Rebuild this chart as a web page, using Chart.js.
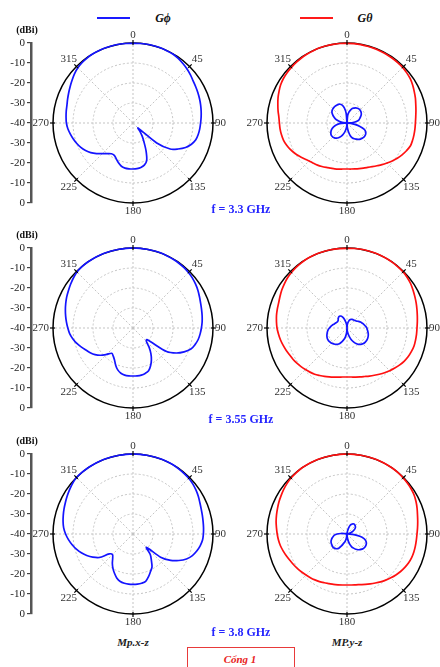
<!DOCTYPE html>
<html>
<head>
<meta charset="utf-8">
<script src="https://cdn.jsdelivr.net/npm/chart.js@4.4.1/dist/chart.umd.min.js"></script>
<style>
  body { margin: 0; background: #fff; }
  #page { position: relative; width: 440px; height: 667px; overflow: hidden; font-family: 'Liberation Serif', 'Times New Roman', serif; }
  #page canvas { position: absolute; }
  .txt { position: absolute; white-space: nowrap; transform: translate(-50%, -50%); line-height: 1; }
  .lg { font-weight: bold; font-style: italic; font-size: 12px; color: #111; }
  .dbi { font-weight: bold; font-size: 10px; color: #111; }
  .freq { font-weight: bold; font-size: 12px; color: #2525ff; }
  .plane { font-weight: bold; font-style: italic; font-size: 11px; color: #222; }
  .line { position: absolute; height: 2px; }
</style>
</head>
<body>
<div id="page">
  <div class="line" style="left:97px;top:17px;width:33px;background:#1a1aff"></div>
  <div class="txt lg" style="left:163px;top:18px">Gϕ</div>
  <div class="line" style="left:300px;top:17px;width:33px;background:#ff1a1a"></div>
  <div class="txt lg" style="left:365px;top:18px">Gθ</div>

  <div class="txt plane" style="left:133px;top:642px">Mp.x-z</div>
  <div class="txt plane" style="left:347px;top:642px">MP.y-z</div>
  <div style="position:absolute;left:187px;top:647px;width:106px;height:30px;border:1.5px solid #e83a3a"></div>
  <div class="txt plane" style="left:240px;top:659px;color:#e81c1c">Cổng 1</div>
</div>
<script>
// angles of the radar spokes, every 5 degrees
const angleLabels = [0,5,10,15,20,25,30,35,40,45,50,55,60,65,70,75,80,85,90,95,100,105,110,115,
  120,125,130,135,140,145,150,155,160,165,170,175,180,185,190,195,200,205,210,215,220,225,230,235,
  240,245,250,255,260,265,270,275,280,285,290,295,300,305,310,315,320,325,330,335,340,345,350,355];

const dbTickLabels = ['0', '-10', '-20', '-30', '-40', '-30', '-20', '-10', '0'];
const freqLabels = ['f = 3.3 GHz', 'f = 3.55 GHz', 'f = 3.8 GHz'];

// Gphi, x-z plane (dBi)
const phiXZ_33 = [
  -0.2, -0.1, 0, 0, 0, -0.1, -0.2, -0.6, -1.2, -1.8, -2.5, -3.3,
  -3.8, -4.2, -4.6, -5.0, -5.4, -5.8, -6.2, -6.5, -6.9, -7.5, -8.9, -11.0,
  -14.0, -17.3, -24.5, -36.5, -34.7, -32.0, -29.0, -24.5, -20.0, -18.2, -17.4, -17.1,
  -17.0, -17.0, -17.1, -17.6, -18.8, -20.2, -21.3, -21.2, -20.0, -18.3, -16.2, -14.2,
  -12.6, -11.2, -10.1, -9.1, -8.2, -7.3, -6.7, -6.4, -6.1, -5.8, -5.2, -4.5,
  -3.7, -2.8, -1.8, -1.0, -0.5, -0.2, 0, 0, 0, 0, 0, -0.1];
const phiXZ_355 = [
  0, 0, 0, 0, 0, -0.1, -0.2, -0.3, -0.5, -0.8, -1.2, -1.8,
  -2.5, -3.3, -4.0, -4.5, -4.9, -5.3, -5.8, -6.3, -6.9, -7.9, -9.2, -11.8,
  -15.0, -19.5, -31.0, -30.5, -27.5, -24.4, -21.6, -19.2, -17.2, -16.5, -16.1, -16.0,
  -16.0, -16.0, -16.1, -16.6, -17.7, -19.5, -21.5, -22.8, -23.5, -21.3, -18.8, -16.8,
  -15.3, -14.0, -12.4, -10.8, -9.4, -8.2, -7.4, -6.6, -5.8, -5.0, -4.2, -3.4,
  -2.7, -1.9, -1.1, -0.4, -0.1, 0, 0, 0, 0, 0, 0, 0];
const phiXZ_38 = [
  0, 0, 0, 0, 0, 0, 0, -0.2, -0.4, -0.6, -1.0, -1.6,
  -2.3, -3.1, -3.7, -4.1, -4.4, -4.6, -4.8, -5.1, -5.9, -7.0, -8.4, -10.5,
  -13.5, -17.0, -22.0, -30.5, -26.5, -24.0, -21.0, -19.3, -17.3, -15.5, -15.0, -14.8,
  -14.8, -14.8, -15.0, -15.4, -16.5, -18.2, -20.0, -22.0, -24.2, -25.5, -24.5, -19.5,
  -16.8, -14.5, -12.5, -10.7, -9.1, -7.6, -6.3, -5.2, -4.5, -3.9, -3.3, -2.7,
  -2.0, -1.3, -0.6, -0.1, 0, 0, 0, 0, 0, 0, 0, 0];

// Gtheta and Gphi, y-z plane (dBi)
const thetaYZ_33 = [
  -0.2, -0.2, -0.2, -0.3, -0.3, -0.4, -0.4, -0.5, -0.6, -0.7, -1.0, -1.4,
  -2.1, -2.9, -3.6, -4.4, -5.0, -5.5, -5.8, -5.9, -6.0, -6.1, -6.3, -7.2,
  -8.2, -9.3, -10.5, -11.7, -12.8, -13.9, -14.8, -15.5, -16.0, -16.4, -16.7, -16.9,
  -17.0, -16.9, -16.6, -16.3, -16.0, -15.5, -14.9, -14.3, -13.8, -13.2, -12.2, -11.0,
  -9.8, -8.7, -7.8, -7.1, -6.7, -6.4, -6.2, -5.8, -5.0, -4.2, -3.3, -2.5,
  -1.7, -1.2, -0.9, -0.7, -0.5, -0.3, -0.2, -0.1, 0, 0, -0.1, -0.1];
const phiYZ_33 = [
  -40, -36.3, -34.5, -33.3, -32.3, -31.8, -31.3, -31.0, -30.8, -30.8, -31.0, -31.3,
  -31.8, -32.5, -33.2, -33.8, -35.0, -37.0, -40, -38.0, -36.0, -33.3, -30.8, -29.7,
  -29.2, -29.0, -29.0, -29.2, -29.5, -30.0, -30.7, -31.3, -32.0, -33.3, -35.3, -37.5,
  -40, -38.3, -36.7, -35.0, -33.7, -32.5, -31.5, -30.8, -30.3, -30.0, -30.0, -30.2,
  -30.7, -31.3, -32.2, -33.2, -34.5, -36.3, -40, -38.3, -36.7, -35.2, -33.8, -32.7,
  -31.7, -30.8, -30.3, -30.0, -29.8, -29.7, -29.7, -29.7, -30.0, -30.8, -32.3, -35.0];
const thetaYZ_355 = [
  -0.2, -0.1, 0, 0, 0, 0, 0, -0.1, -0.2, -0.3, -0.7, -1.2,
  -1.9, -2.6, -3.2, -3.8, -4.3, -4.7, -5.0, -5.1, -5.2, -5.3, -5.7, -6.2,
  -6.9, -7.8, -8.8, -9.8, -10.8, -11.8, -12.7, -13.5, -14.2, -14.7, -15.1, -15.4,
  -15.5, -15.4, -15.1, -14.6, -14.0, -13.3, -12.6, -11.8, -11.2, -10.6, -10.0, -9.4,
  -8.8, -8.3, -7.6, -6.9, -6.2, -5.6, -5.0, -4.6, -4.2, -3.9, -3.6, -3.0,
  -2.3, -1.7, -1.1, -0.7, -0.4, -0.2, 0, 0, 0, 0, -0.1, -0.2];
const phiYZ_355 = [
  -40, -38.5, -37.2, -36.2, -35.6, -35.2, -35.0, -34.9, -34.8, -34.6, -34.4, -34.0,
  -33.4, -32.8, -32.2, -31.7, -31.2, -30.6, -30.1, -29.8, -29.4, -29.0, -28.7, -28.5,
  -28.4, -28.4, -28.5, -28.8, -29.3, -30.0, -31.0, -32.3, -33.7, -35.5, -37.2, -38.8,
  -40, -37.5, -35.5, -34.0, -32.8, -31.5, -30.6, -30.0, -29.6, -29.2, -29.0, -28.8,
  -28.8, -29.0, -29.3, -29.7, -30.1, -30.6, -31.2, -31.8, -32.4, -33.0, -33.5, -33.9,
  -34.2, -34.3, -34.2, -33.8, -33.3, -33.0, -33.1, -33.5, -34.5, -36.0, -37.5, -39.0];
const thetaYZ_38 = [
  0, 0, 0, 0, 0, 0, 0, 0, -0.1, -0.3, -0.5, -0.8,
  -1.2, -1.9, -2.7, -3.5, -4.1, -4.6, -5.0, -5.2, -5.3, -5.4, -5.6, -6.0,
  -6.6, -7.3, -8.1, -9.0, -9.9, -10.8, -11.7, -12.5, -13.2, -13.8, -14.2, -14.4,
  -14.5, -14.4, -14.2, -13.9, -13.6, -13.1, -12.5, -12.0, -11.5, -11.0, -10.4, -9.8,
  -9.2, -8.6, -7.8, -7.0, -6.2, -5.6, -5.1, -4.6, -4.0, -3.5, -3.0, -2.4,
  -1.9, -1.3, -0.8, -0.4, -0.2, 0, 0, 0, 0, 0, 0, 0];
const phiYZ_38 = [
  -40, -39.5, -38.5, -36.8, -35.3, -34.6, -34.1, -33.9, -34.0, -34.2, -34.5, -35.0,
  -35.8, -36.8, -38.0, -39.0, -39.6, -39.8, -39.5, -36.5, -33.5, -31.2, -30.0, -29.3,
  -29.0, -28.9, -29.0, -29.3, -29.8, -30.4, -31.2, -32.2, -33.2, -34.6, -36.5, -38.5,
  -39.8, -39.5, -37.5, -36.0, -35.0, -33.4, -31.8, -31.0, -30.6, -30.4, -30.5, -30.7,
  -30.9, -31.2, -31.7, -32.3, -33.0, -33.7, -35.0, -37.0, -38.8, -39.6, -40, -40,
  -40, -40, -40, -40, -40, -40, -40, -40, -40, -40, -40, -40];

const BLUE = '#1414ff';
const RED = '#ff1010';
const rowCenters = [123, 328, 534];
const R = 80;
const page = document.getElementById('page');

function addCanvas(left, top, w, h) {
  const c = document.createElement('canvas');
  c.width = w; c.height = h;
  c.style.left = left + 'px'; c.style.top = top + 'px';
  c.style.width = w + 'px'; c.style.height = h + 'px';
  page.appendChild(c);
  return c;
}

function addText(cls, x, y, text) {
  const d = document.createElement('div');
  d.className = 'txt ' + cls;
  d.style.left = x + 'px'; d.style.top = y + 'px';
  d.textContent = text;
  page.appendChild(d);
}

// angle labels + little ticks on the outer ring
const angleText = {
  id: 'angleText',
  afterDraw(chart) {
    const s = chart.scales.r, ctx = chart.ctx;
    const rad = s.drawingArea;
    ctx.save();
    ctx.font = '11px "Liberation Serif"';
    ctx.fillStyle = '#333';
    ctx.textBaseline = 'middle';
    ctx.strokeStyle = '#000';
    ctx.lineWidth = 1.2;
    angleLabels.forEach((a, i) => {
      if (a % 45) return;
      const p0 = s.getPointPosition(i, rad - 2), p1 = s.getPointPosition(i, rad + 3);
      ctx.beginPath(); ctx.moveTo(p0.x, p0.y); ctx.lineTo(p1.x, p1.y); ctx.stroke();
      let off = 11;
      ctx.textAlign = 'center';
      if (a === 0 || a === 180) off = 8;
      if (a === 90) { off = 2; ctx.textAlign = 'left'; }
      if (a === 270) { off = 4; ctx.textAlign = 'right'; }
      const p = s.getPointPosition(i, rad + off);
      ctx.fillText(String(a), p.x, p.y);
    });
    ctx.restore();
  }
};

function polar(cx, cy, left, width, datasets) {
  const top = cy - 100;
  const cv = addCanvas(left, top, width, 200);
  const padL = cx - R - left;
  const padR = left + width - (cx + R);
  new Chart(cv, {
    type: 'radar',
    data: { labels: angleLabels, datasets },
    options: {
      responsive: false,
      animation: false,
      devicePixelRatio: 1,
      layout: { padding: { left: padL, right: padR, top: 20, bottom: 20 } },
      plugins: { legend: { display: false }, tooltip: { enabled: false } },
      elements: { point: { radius: 0 }, line: { tension: 0.3, borderWidth: 1.7, fill: false } },
      scales: {
        r: {
          min: -40, max: 0,
          ticks: { display: false, stepSize: 10 },
          pointLabels: { display: false },
          angleLines: {
            display: true,
            color: c => c.index % 9 === 0 ? '#c4c4c4' : 'rgba(0,0,0,0)',
            lineWidth: 1,
            borderDash: [2, 2]
          },
          grid: {
            circular: true,
            color: c => c.tick.value === 0 ? '#000' : '#c4c4c4',
            lineWidth: c => c.tick.value === 0 ? 1.5 : 1
          },
          border: { dash: c => c.tick.value === 0 ? [] : [2, 2] }
        }
      }
    },
    plugins: [angleText]
  });
}

function dbAxis(cy) {
  const cv = addCanvas(0, cy - R - 10, 36, 2 * R + 20);
  new Chart(cv, {
    type: 'line',
    data: { labels: [], datasets: [] },
    options: {
      responsive: false,
      animation: false,
      devicePixelRatio: 1,
      layout: { padding: { top: 10, bottom: 10, left: 0, right: 0 } },
      plugins: { legend: { display: false }, tooltip: { enabled: false } },
      scales: {
        x: { display: false },
        y: {
          min: 0, max: 80, reverse: true,
          afterFit: s => { s.width = 31; },
          ticks: {
            stepSize: 10, padding: 2, color: '#222', autoSkip: false,
            font: { family: 'Liberation Serif', size: 11 },
            callback: (v, i) => dbTickLabels[i]
          },
          grid: { drawOnChartArea: false, tickLength: 4, color: '#444', lineWidth: 1.2 },
          border: { color: '#555', width: 2.5 }
        }
      }
    }
  });
}

const xzSets = [phiXZ_33, phiXZ_355, phiXZ_38];
const yzTheta = [thetaYZ_33, thetaYZ_355, thetaYZ_38];
const yzPhi = [phiYZ_33, phiYZ_355, phiYZ_38];

rowCenters.forEach((cy, k) => {
  dbAxis(cy);
  addText('dbi', 27, cy - 93, '(dBi)');
  polar(133, cy, 28, 206, [
    { label: 'Gϕ', data: xzSets[k], borderColor: BLUE }
  ]);
  polar(347, cy, 240, 200, [
    { label: 'Gθ', data: yzTheta[k], borderColor: RED },
    { label: 'Gϕ', data: yzPhi[k], borderColor: BLUE }
  ]);
  addText('freq', 241, cy + 86 + (k === 2 ? 12 : (k === 1 ? 5 : 0)), freqLabels[k]);
});
</script>
</body>
</html>
